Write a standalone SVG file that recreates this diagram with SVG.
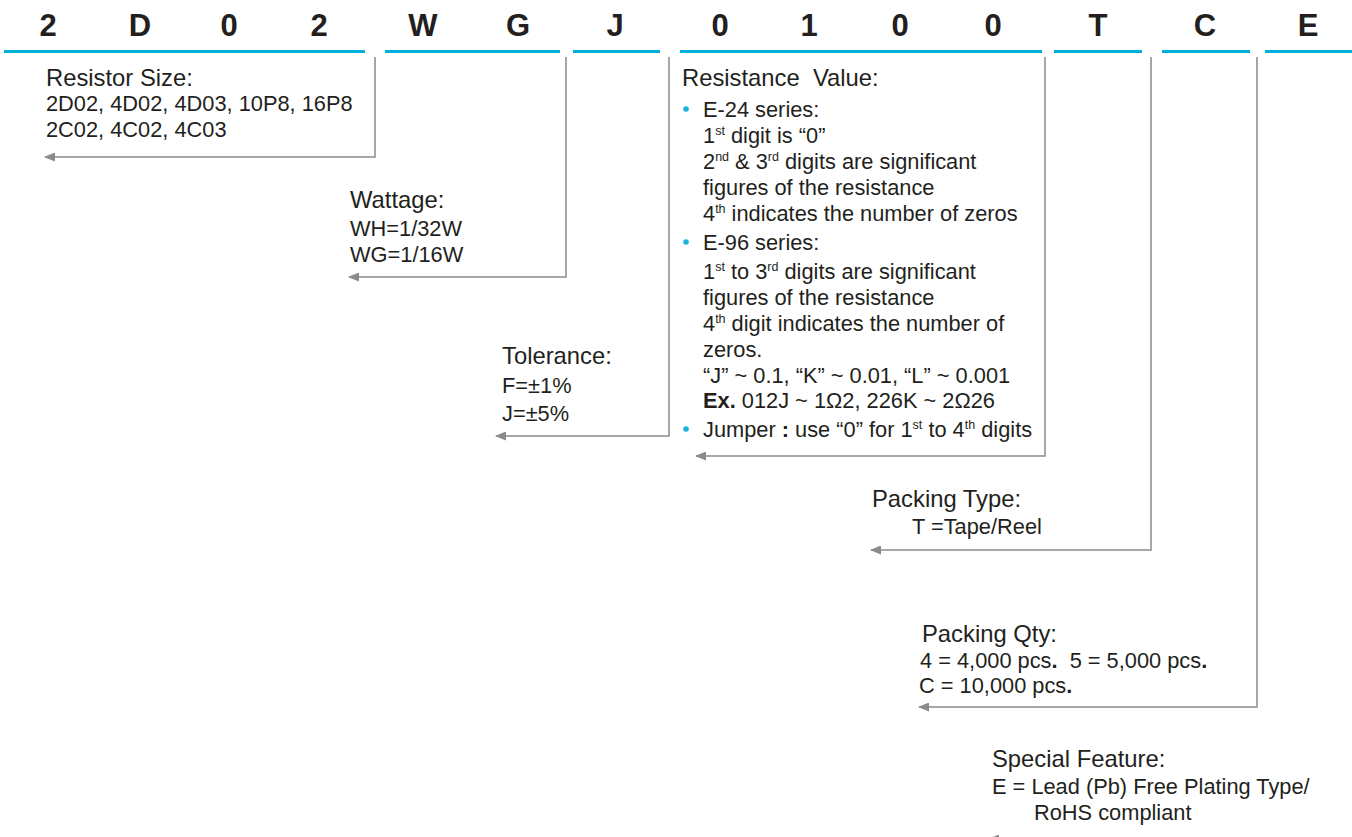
<svg xmlns="http://www.w3.org/2000/svg" width="1352" height="837" viewBox="0 0 1352 837">
<defs>
<style>
text{font-family:"Liberation Sans",Arial,sans-serif;fill:#231f20}
.h{font-size:31px;font-weight:bold;text-anchor:middle}
.t{font-size:23.8px}
.b{font-size:21.8px}
.bar{fill:#00b2d9}
.c{fill:none;stroke:#8a8a8a;stroke-width:1.5}
.dot{fill:#1ab3e0}
.sup{font-size:12.5px}
</style>
<marker id="arr" markerWidth="11" markerHeight="9" refX="10" refY="4.5" orient="auto" markerUnits="userSpaceOnUse">
<path d="M0,0 L11,4.5 L0,9 Z" fill="#8a8a8a"/>
</marker>
</defs>
<rect width="1352" height="837" fill="#fff"/>
<g id="header">
<text class="h" x="48" y="36">2</text>
<text class="h" x="140" y="36">D</text>
<text class="h" x="229" y="36">0</text>
<text class="h" x="319" y="36">2</text>
<text class="h" x="423" y="36">W</text>
<text class="h" x="518" y="36">G</text>
<text class="h" x="615" y="36">J</text>
<text class="h" x="720" y="36">0</text>
<text class="h" x="809" y="36">1</text>
<text class="h" x="900" y="36">0</text>
<text class="h" x="993" y="36">0</text>
<text class="h" x="1098" y="36">T</text>
<text class="h" x="1205" y="36">C</text>
<text class="h" x="1308" y="36">E</text>
<rect class="bar" x="4" y="50" width="361" height="3"/>
<rect class="bar" x="385" y="50" width="175" height="3"/>
<rect class="bar" x="573" y="50" width="87" height="3"/>
<rect class="bar" x="680" y="50" width="362" height="3"/>
<rect class="bar" x="1054" y="50" width="88" height="3"/>
<rect class="bar" x="1162" y="50" width="88" height="3"/>
<rect class="bar" x="1265" y="50" width="87" height="3"/>
</g>
<g id="connectors">
<path class="c" d="M375,57 V157 H45" marker-end="url(#arr)"/>
<path class="c" d="M566,57 V277 H349" marker-end="url(#arr)"/>
<path class="c" d="M669,57 V436 H496" marker-end="url(#arr)"/>
<path class="c" d="M1045,57 V456 H696" marker-end="url(#arr)"/>
<path class="c" d="M1151,57 V550 H871" marker-end="url(#arr)"/>
<path class="c" d="M1257,57 V707 H919" marker-end="url(#arr)"/>
<path class="c" d="M1360,839 H989" marker-end="url(#arr)"/>
</g>
<g id="resistor-size">
<text class="t" x="46" y="86">Resistor Size:</text>
<text class="b" x="46" y="111">2D02, 4D02, 4D03, 10P8, 16P8</text>
<text class="b" x="46" y="137">2C02, 4C02, 4C03</text>
</g>
<g id="wattage">
<text class="t" x="350" y="208">Wattage:</text>
<text class="b" x="350" y="236">WH=1/32W</text>
<text class="b" x="350" y="262">WG=1/16W</text>
</g>
<g id="tolerance">
<text class="t" x="502" y="364">Tolerance:</text>
<text class="b" x="502" y="393">F=±1%</text>
<text class="b" x="502" y="421">J=±5%</text>
</g>
<g id="resistance-value">
<text class="t" x="682" y="86" xml:space="preserve">Resistance  Value:</text>
<circle class="dot" cx="686" cy="109" r="2.8"/>
<text class="b" x="703" y="117">E-24 series:</text>
<text class="b" x="703" y="143">1<tspan class="sup" dy="-8">st</tspan><tspan dy="8"> digit is “0”</tspan></text>
<text class="b" x="703" y="169">2<tspan class="sup" dy="-8">nd</tspan><tspan dy="8"> &amp; 3</tspan><tspan class="sup" dy="-8">rd</tspan><tspan dy="8"> digits are significant</tspan></text>
<text class="b" x="703" y="195">figures of the resistance</text>
<text class="b" x="703" y="221">4<tspan class="sup" dy="-8">th</tspan><tspan dy="8"> indicates the number of zeros</tspan></text>
<circle class="dot" cx="686" cy="242" r="2.8"/>
<text class="b" x="703" y="250">E-96 series:</text>
<text class="b" x="703" y="279">1<tspan class="sup" dy="-8">st</tspan><tspan dy="8"> to 3</tspan><tspan class="sup" dy="-8">rd</tspan><tspan dy="8"> digits are significant</tspan></text>
<text class="b" x="703" y="305">figures of the resistance</text>
<text class="b" x="703" y="331">4<tspan class="sup" dy="-8">th</tspan><tspan dy="8"> digit indicates the number of</tspan></text>
<text class="b" x="703" y="357">zeros.</text>
<text class="b" x="703" y="383">“J” ~ 0.1, “K” ~ 0.01, “L” ~ 0.001</text>
<text class="b" x="703" y="408"><tspan font-weight="bold">Ex.</tspan> 012J ~ 1Ω2, 226K ~ 2Ω26</text>
<circle class="dot" cx="686" cy="429" r="2.8"/>
<text class="b" x="703" y="437">Jumper <tspan font-weight="bold">:</tspan> use “0” for 1<tspan class="sup" dy="-8">st</tspan><tspan dy="8"> to 4</tspan><tspan class="sup" dy="-8">th</tspan><tspan dy="8"> digits</tspan></text>
</g>
<g id="packing-type">
<text class="t" x="872" y="507">Packing Type:</text>
<text class="b" x="912" y="534">T =Tape/Reel</text>
</g>
<g id="packing-qty">
<text class="t" x="922" y="642">Packing Qty:</text>
<text class="b" x="920" y="668" xml:space="preserve">4 = 4,000 pcs<tspan font-weight="bold">.</tspan>  5 = 5,000 pcs<tspan font-weight="bold">.</tspan></text>
<text class="b" x="919" y="693">C = 10,000 pcs<tspan font-weight="bold">.</tspan></text>
</g>
<g id="special-feature">
<text class="t" x="992" y="767">Special Feature:</text>
<text class="b" x="992" y="794">E = Lead (Pb) Free Plating Type/</text>
<text class="b" x="1034" y="820">RoHS compliant</text>
</g>
</svg>
